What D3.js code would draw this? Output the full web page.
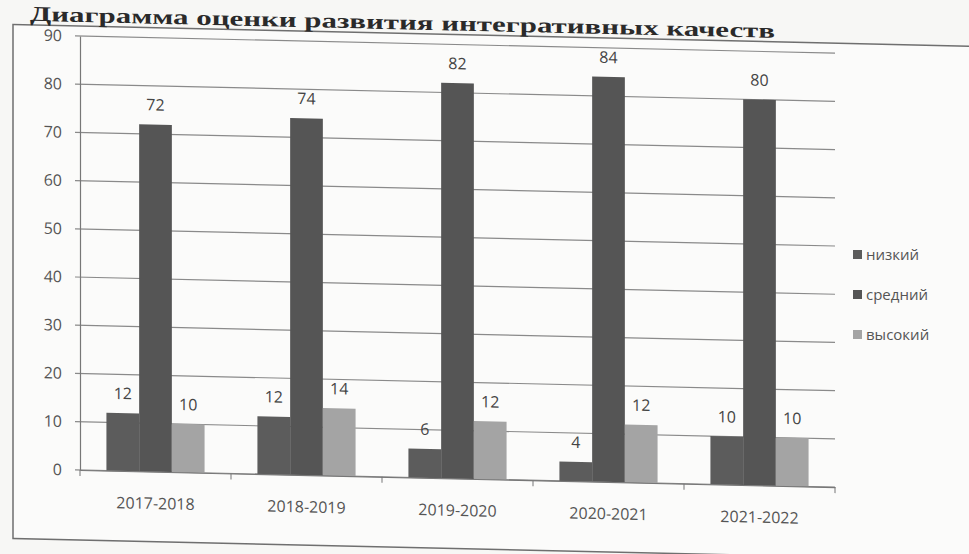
<!DOCTYPE html>
<html>
<head>
<meta charset="utf-8">
<script src="https://cdn.jsdelivr.net/npm/d3@7"></script>
<style>
  body { margin: 0; background: #f7f7f5; }
  svg { display: block; }
  .tick text { font-family: "Open Sans", sans-serif; fill: #555; }
</style>
</head>
<body>
<svg></svg>
<script>
const width = 969;
const height = 554;

const years = ["2017-2018", "2018-2019", "2019-2020", "2020-2021", "2021-2022"];
const levels = ["низкий", "средний", "высокий"];
const low = [12, 12, 6, 4, 10];
const mid = [72, 74, 82, 84, 80];
const high = [10, 14, 12, 12, 10];
const yTicks = [0, 10, 20, 30, 40, 50, 60, 70, 80, 90];
const colors = ["#5c5c5c", "#555555", "#a4a4a4"];

const rows = years.map((y, i) => ({ year: y, values: [low[i], mid[i], high[i]] }));

const plotLeft = 80, plotRight = 835, plotTop = 36, plotBottom = 470;

const svg = d3.select("svg").attr("width", width).attr("height", height);

// photo of a printed page: the whole chart leans a little
const g = svg.append("g")
  .attr("transform", `translate(${plotLeft},${plotBottom}) skewY(1.3) translate(${-plotLeft},${-plotBottom})`);

// frame
g.append("rect")
  .attr("x", 13).attr("y", 26)
  .attr("width", 1000).attr("height", 514)
  .attr("fill", "#fbfbfa")
  .attr("stroke", "#6f6f6f")
  .attr("stroke-width", 1.5);

g.append("text")
  .attr("x", 30).attr("y", 22)
  .attr("textLength", 745)
  .attr("lengthAdjust", "spacingAndGlyphs")
  .style("font-family", "Liberation Serif, serif")
  .style("font-weight", "bold")
  .style("font-size", "21px")
  .attr("fill", "#2a2a2a")
  .text("Диаграмма оценки развития интегративных качеств");

const x = d3.scaleBand().domain(years).range([plotLeft, plotRight]).paddingInner(0.35).paddingOuter(0.175);
const xs = d3.scaleBand().domain(levels).range([0, x.bandwidth()]);
const y = d3.scaleLinear().domain([0, 90]).range([plotBottom, plotTop]);

// gridlines
g.append("g").selectAll("line")
  .data(yTicks)
  .enter().append("line")
  .attr("x1", plotLeft - 5).attr("x2", plotRight)
  .attr("y1", d => y(d)).attr("y2", d => y(d))
  .attr("stroke", "#8a8a8a").attr("stroke-width", 1.2);

const yAxis = d3.axisLeft(y).tickValues(yTicks).tickSize(0).tickPadding(18);
g.append("g")
  .attr("transform", `translate(${plotLeft},0)`)
  .call(yAxis)
  .call(s => s.select(".domain").attr("stroke", "#777").attr("stroke-width", 1.2))
  .selectAll("text").style("font-size", "16px");

// bars
const groups = g.append("g").selectAll("g")
  .data(rows)
  .enter().append("g")
  .attr("transform", d => `translate(${x(d.year)},0)`);

groups.selectAll("rect")
  .data(d => d.values.map((v, i) => ({ level: levels[i], value: v, i })))
  .enter().append("rect")
  .attr("x", d => xs(d.level))
  .attr("y", d => y(d.value))
  .attr("width", xs.bandwidth())
  .attr("height", d => plotBottom - y(d.value))
  .attr("fill", d => colors[d.i]);

groups.selectAll(".val")
  .data(d => d.values.map((v, i) => ({ level: levels[i], value: v })))
  .enter().append("text")
  .attr("class", "val")
  .attr("x", d => xs(d.level) + xs.bandwidth() / 2)
  .attr("y", d => y(d.value) - 14)
  .attr("text-anchor", "middle")
  .style("font-family", "Open Sans, sans-serif")
  .style("font-size", "16px")
  .attr("fill", "#444")
  .text(d => d.value);

// x axis
const xAxis = d3.axisBottom(x).tickSize(0).tickPadding(26);
g.append("g")
  .attr("transform", `translate(0,${plotBottom})`)
  .call(xAxis)
  .call(s => s.select(".domain").attr("stroke", "#777").attr("stroke-width", 1.2))
  .selectAll("text").style("font-size", "16px");

g.append("g").selectAll("line")
  .data(d3.range(years.length + 1))
  .enter().append("line")
  .attr("x1", i => plotLeft + i * x.step()).attr("x2", i => plotLeft + i * x.step())
  .attr("y1", plotBottom).attr("y2", plotBottom + 6)
  .attr("stroke", "#777");

// legend
const legend = svg.append("g").attr("transform", "translate(853,255)");
levels.forEach((l, i) => {
  legend.append("rect")
    .attr("x", 0).attr("y", i * 40 - 5)
    .attr("width", 9).attr("height", 9)
    .attr("fill", colors[i]);
  legend.append("text")
    .attr("x", 13).attr("y", i * 40 + 4.5)
    .style("font-family", "Open Sans, sans-serif")
    .style("font-size", "15px")
    .attr("fill", "#555")
    .text(l);
});
</script>
</body>
</html>
